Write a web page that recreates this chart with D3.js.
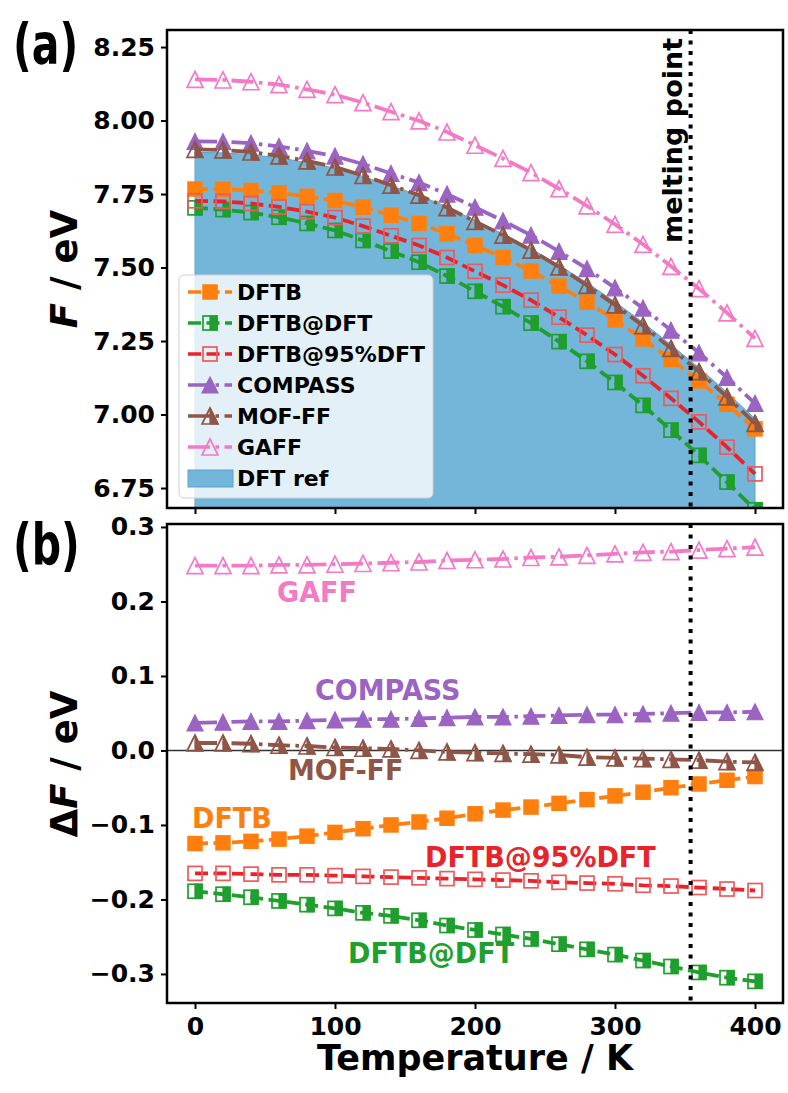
<!DOCTYPE html>
<html><head><meta charset="utf-8">
<script src="https://cdn.jsdelivr.net/npm/d3@7"></script>
<style>
body{margin:0;background:#fff}
svg{display:block}
text{font-family:"DejaVu Sans",sans-serif;font-weight:bold}
</style>
</head><body>
<svg id="chart" width="788" height="1093"></svg>
<script>
// ---------------- data ----------------
const temperatures = [0,20,40,60,80,100,120,140,160,180,200,220,240,260,280,300,320,340,360,380,400];
const meltingPoint = 354;

// panel (a): free energy F / eV
const F_DFTref  = [7.892,7.890,7.884,7.873,7.857,7.838,7.810,7.778,7.746,7.706,7.660,7.614,7.564,7.508,7.448,7.383,7.313,7.237,7.159,7.075,6.986];
const F_DFTB    = [7.767,7.766,7.762,7.754,7.742,7.728,7.705,7.678,7.650,7.615,7.575,7.534,7.488,7.437,7.382,7.322,7.257,7.187,7.114,7.035,6.951];
const F_DFTB_DFT= [7.703,7.697,7.687,7.671,7.650,7.626,7.592,7.556,7.518,7.471,7.419,7.367,7.311,7.248,7.181,7.109,7.031,6.947,6.861,6.770,6.676];
const F_DFTB_95 = [7.727,7.725,7.718,7.706,7.690,7.670,7.641,7.608,7.575,7.534,7.487,7.440,7.389,7.331,7.270,7.204,7.132,7.055,6.975,6.889,6.798];
const F_COMPASS = [7.929,7.928,7.923,7.912,7.897,7.879,7.852,7.820,7.789,7.750,7.705,7.659,7.610,7.555,7.496,7.431,7.362,7.287,7.210,7.126,7.038];
const F_MOFFF   = [7.902,7.900,7.893,7.880,7.863,7.842,7.813,7.780,7.746,7.704,7.657,7.610,7.559,7.502,7.439,7.373,7.302,7.225,7.146,7.060,6.970];
const F_GAFF    = [8.140,8.138,8.132,8.122,8.106,8.088,8.061,8.030,7.999,7.961,7.916,7.871,7.823,7.768,7.710,7.647,7.579,7.504,7.428,7.346,7.259];

// panel (b): deviation dF / eV
const dF_DFTB    = [-0.125,-0.124,-0.122,-0.119,-0.115,-0.110,-0.105,-0.100,-0.096,-0.091,-0.085,-0.080,-0.076,-0.071,-0.066,-0.061,-0.056,-0.050,-0.045,-0.040,-0.035];
const dF_DFTB_DFT= [-0.189,-0.193,-0.197,-0.202,-0.207,-0.212,-0.218,-0.222,-0.228,-0.235,-0.241,-0.247,-0.253,-0.260,-0.267,-0.274,-0.282,-0.290,-0.298,-0.305,-0.310];
const dF_DFTB_95 = [-0.165,-0.165,-0.166,-0.167,-0.167,-0.168,-0.169,-0.170,-0.171,-0.172,-0.173,-0.174,-0.175,-0.177,-0.178,-0.179,-0.181,-0.182,-0.184,-0.186,-0.188];
const dF_COMPASS = [0.037,0.038,0.039,0.039,0.040,0.041,0.042,0.042,0.043,0.044,0.045,0.045,0.046,0.047,0.048,0.048,0.049,0.050,0.051,0.051,0.052];
const dF_MOFFF   = [0.010,0.010,0.009,0.007,0.006,0.004,0.003,0.002,0.000,-0.002,-0.003,-0.004,-0.005,-0.006,-0.009,-0.010,-0.011,-0.012,-0.013,-0.015,-0.016];
const dF_GAFF    = [0.248,0.248,0.248,0.249,0.249,0.250,0.251,0.252,0.253,0.255,0.256,0.257,0.259,0.260,0.262,0.264,0.266,0.267,0.269,0.271,0.273];

const seriesNames = ["DFTB","DFTB@DFT","DFTB@95%DFT","COMPASS","MOF-FF","GAFF"];
const topSeries = [F_DFTB,F_DFTB_DFT,F_DFTB_95,F_COMPASS,F_MOFFF,F_GAFF];
const bottomSeries = [dF_DFTB,dF_DFTB_DFT,dF_DFTB_95,dF_COMPASS,dF_MOFFF,dF_GAFF];

const xTicks = [0,100,200,300,400];
const topTicks = [6.75,7.00,7.25,7.50,7.75,8.00,8.25];
const bottomTicks = [-0.3,-0.2,-0.1,0.0,0.1,0.2,0.3];
const xLabel = "Temperature / K";
const legendRefLabel = "DFT ref";

// ---------------- styles ----------------
const styles = [
  {color:"#ff7f0e", edge:"#ff7f0e", dash:"13,5.5", marker:"square", fill:"full"},
  {color:"#1f9f2d", edge:"#1f9f2d", dash:"13,5.5", marker:"square", fill:"right"},
  {color:"#e8232b", edge:"#ee5a5a", dash:"13,5.5", marker:"square", fill:"none"},
  {color:"#9b64c2", edge:"#9b64c2", dash:"22,5.5,3.5,5.5", marker:"triangle", fill:"full"},
  {color:"#8f5546", edge:"#8f5546", dash:"22,5.5,3.5,5.5", marker:"triangle", fill:"right"},
  {color:"#f27ac6", edge:"#f27ac6", dash:"22,5.5,3.5,5.5", marker:"triangle", fill:"none"}
];
const areaColor = "#74b6da";
const annot = [
  {text:"GAFF", x:277, y:602, color:"#f27ac6"},
  {text:"COMPASS", x:315, y:700, color:"#9b64c2"},
  {text:"MOF-FF", x:288, y:780, color:"#8f5546"},
  {text:"DFTB", x:192, y:828, color:"#ff7f0e"},
  {text:"DFTB@95%DFT", x:425, y:867, color:"#e8232b"},
  {text:"DFTB@DFT", x:348, y:963, color:"#1f9f2d"}
];

// ---------------- layout ----------------
const L=167, R=783, topA=30, botA=508, topB=524, botB=1003;
const svg = d3.select("#chart");
const x = d3.scaleLinear().domain([-20,420]).range([L,R]);
const yA = d3.scaleLinear().domain([6.682,8.308]).range([botA,topA]);
const yB = d3.scaleLinear().domain([-0.339,0.304]).range([botB,topB]);

const defs = svg.append("defs");
defs.append("clipPath").attr("id","clipA").append("rect").attr("x",L).attr("y",topA).attr("width",R-L).attr("height",botA-topA);
defs.append("clipPath").attr("id","clipB").append("rect").attr("x",L).attr("y",topB).attr("width",R-L).attr("height",botB-topB);

function drawMarker(g, cx, cy, st) {
  if (st.marker === "square") {
    const s = 14;
    if (st.fill === "full") {
      g.append("rect").attr("x",cx-s/2).attr("y",cy-s/2).attr("width",s).attr("height",s)
        .attr("fill",st.color).attr("stroke",st.edge).attr("stroke-width",1.5);
    } else {
      g.append("rect").attr("x",cx-s/2).attr("y",cy-s/2).attr("width",s).attr("height",s)
        .attr("fill","none").attr("stroke",st.edge).attr("stroke-width",1.7);
      if (st.fill === "right") {
        g.append("rect").attr("x",cx).attr("y",cy-s/2).attr("width",s/2).attr("height",s)
          .attr("fill",st.color).attr("stroke",st.edge).attr("stroke-width",1.2);
      }
    }
  } else {
    const s = 16;
    const tri = `M${cx},${cy-s/2}L${cx+s/2},${cy+s/2}L${cx-s/2},${cy+s/2}Z`;
    if (st.fill === "full") {
      g.append("path").attr("d",tri).attr("fill",st.color).attr("stroke",st.edge).attr("stroke-width",1.2);
    } else {
      g.append("path").attr("d",tri).attr("fill","none").attr("stroke",st.edge).attr("stroke-width",1.7).attr("stroke-linejoin","miter");
      if (st.fill === "right") {
        g.append("path").attr("d",`M${cx},${cy-s/2}L${cx+s/2},${cy+s/2}L${cx},${cy+s/2}Z`)
          .attr("fill",st.color).attr("stroke",st.edge).attr("stroke-width",1.2);
      }
    }
  }
}

function drawSeries(g, y, values, st) {
  const pts = temperatures.map((t,i)=>[t, values[i]]);
  const line = d3.line().x(d=>x(d[0])).y(d=>y(d[1]));
  g.append("path").datum(pts).attr("d",line).attr("fill","none")
    .attr("stroke",st.color).attr("stroke-width",3.8).attr("stroke-dasharray",st.dash);
  const mg = g.append("g");
  pts.forEach(p=>drawMarker(mg, x(p[0]), y(p[1]), st));
}

// ---------------- panel (a) ----------------
const gA = svg.append("g").attr("clip-path","url(#clipA)");
const area = d3.area().x((d,i)=>x(temperatures[i])).y0(botA+20).y1(d=>yA(d));
gA.append("path").datum(F_DFTref).attr("d",area).attr("fill",areaColor).attr("stroke","#5aa3cf").attr("stroke-width",1);
topSeries.forEach((vals,i)=>drawSeries(gA, yA, vals, styles[i]));

// ---------------- panel (b) ----------------
const gB = svg.append("g").attr("clip-path","url(#clipB)");
gB.append("line").attr("x1",L).attr("x2",R).attr("y1",yB(0)).attr("y2",yB(0)).attr("stroke","#333").attr("stroke-width",1.5);
bottomSeries.forEach((vals,i)=>drawSeries(gB, yB, vals, styles[i]));

// melting point lines
[[topA,botA],[topB,botB]].forEach(([a,b])=>{
  svg.append("line").attr("x1",x(meltingPoint)).attr("x2",x(meltingPoint)).attr("y1",a).attr("y2",b)
    .attr("stroke","#000").attr("stroke-width",4).attr("stroke-dasharray","4,6.5");
});
svg.append("text").attr("transform",`translate(682,243) rotate(-90)`).attr("font-size",27).attr("fill","#000").text("melting point");

// annotations
annot.forEach(a=>{
  svg.append("text").attr("transform",`translate(${a.x},${a.y}) scale(1,1.08)`).attr("font-size",27).attr("fill",a.color).text(a.text);
});

// ---------------- axes ----------------
function styleAxis(g){
  g.select(".domain").remove();
  g.selectAll(".tick line").attr("stroke","#000").attr("stroke-width",2);
  g.selectAll(".tick text").attr("font-size",25).attr("fill","#000")
    .style("font-family","'DejaVu Sans',sans-serif").style("font-weight","bold");
}
const axA = svg.append("g").attr("transform",`translate(${L},0)`)
  .call(d3.axisLeft(yA).tickValues(topTicks).tickFormat(d3.format(".2f")).tickSize(6).tickPadding(6));
styleAxis(axA);
const axB = svg.append("g").attr("transform",`translate(${L},0)`)
  .call(d3.axisLeft(yB).tickValues(bottomTicks).tickFormat(d=>Math.abs(d)<1e-9?"0.0":d3.format(".1f")(d)).tickSize(6).tickPadding(6));
styleAxis(axB);
const axXA = svg.append("g").attr("transform",`translate(0,${botA})`)
  .call(d3.axisBottom(x).tickValues(xTicks).tickFormat("").tickSize(6));
styleAxis(axXA);
const axXB = svg.append("g").attr("transform",`translate(0,${botB})`)
  .call(d3.axisBottom(x).tickValues(xTicks).tickSize(6).tickPadding(8));
styleAxis(axXB);

// frames
svg.append("rect").attr("x",L).attr("y",topA).attr("width",R-L).attr("height",botA-topA).attr("fill","none").attr("stroke","#000").attr("stroke-width",2.5);
svg.append("rect").attr("x",L).attr("y",topB).attr("width",R-L).attr("height",botB-topB).attr("fill","none").attr("stroke","#000").attr("stroke-width",2.5);

// axis labels
const ylA = svg.append("text").attr("transform","translate(77,269) rotate(-90)").attr("text-anchor","middle").attr("font-size",37).attr("fill","#000");
ylA.append("tspan").attr("font-style","italic").text("F");
ylA.append("tspan").text(" / eV");
const ylB = svg.append("text").attr("transform","translate(77,764) rotate(-90)").attr("text-anchor","middle").attr("font-size",37).attr("fill","#000");
ylB.append("tspan").text("Δ");
ylB.append("tspan").attr("font-style","italic").text("F");
ylB.append("tspan").text(" / eV");
svg.append("text").attr("x",(x(0)+x(400))/2).attr("y",1070).attr("text-anchor","middle").attr("font-size",35).attr("fill","#000").text(xLabel);

// panel labels
svg.append("text").attr("transform","translate(13,64) scale(1,1.4)").attr("font-size",41).attr("fill","#000").text("(a)");
svg.append("text").attr("transform","translate(13,564) scale(1,1.4)").attr("font-size",41).attr("fill","#000").text("(b)");

// ---------------- legend ----------------
const lg = svg.append("g");
lg.append("rect").attr("x",179).attr("y",275).attr("width",254).attr("height",223).attr("rx",5)
  .attr("fill","#fff").attr("fill-opacity",0.8).attr("stroke","#d0d0d0").attr("stroke-width",1);
seriesNames.forEach((name,i)=>{
  const yy = 292 + i*31;
  const st = styles[i];
  lg.append("line").attr("x1",188).attr("x2",232).attr("y1",yy).attr("y2",yy)
    .attr("stroke",st.color).attr("stroke-width",3.5).attr("stroke-dasharray",st.dash);
  drawMarker(lg, 210, yy, st);
  lg.append("text").attr("x",237).attr("y",yy+8).attr("font-size",22).attr("fill","#000").text(name);
});
{
  const yy = 292 + 6*31;
  lg.append("rect").attr("x",188).attr("y",yy-8).attr("width",45).attr("height",17)
    .attr("fill",areaColor).attr("stroke","#5aa3cf").attr("stroke-width",1);
  lg.append("text").attr("x",237).attr("y",yy+8).attr("font-size",22).attr("fill","#000").text(legendRefLabel);
}
</script>
</body></html>
